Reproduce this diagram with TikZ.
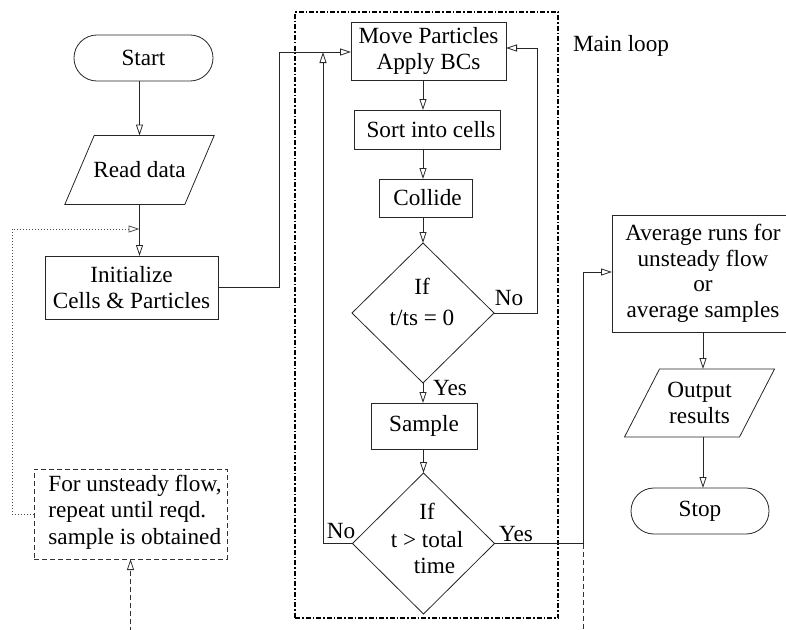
\documentclass[tikz,border=0pt]{standalone}
\usepackage{fontspec}
\setmainfont{Liberation Serif}
\usetikzlibrary{arrows.meta,shapes.geometric}
\newcommand{\fsz}{\fontsize{23.2}{25.5}\selectfont}
\begin{document}
\begin{tikzpicture}[x=1pt,y=-1pt,
  base/.style={draw=black!85, line width=0.8pt, inner sep=0pt, outer sep=0pt, align=center, font=\fsz},
  proc/.style={base, rectangle},
  term/.style={base, rectangle, rounded corners=22.9pt},
  dec/.style={base, diamond},
  iobox/.style={rectangle, inner sep=0pt, outer sep=0pt, align=center, font=\fsz},
  outline/.style={draw=black!85, line width=0.8pt},
  txt/.style={inner sep=0pt, align=center, font=\fsz},
  loopframe/.style={draw=black, line width=1.3pt, dash pattern=on 5pt off 2pt on 1.5pt off 2pt, rectangle, inner sep=0pt, outer sep=0pt},
  notebox/.style={draw=black!80, line width=0.8pt, dash pattern=on 5pt off 3pt, rectangle, inner sep=0pt, outer sep=0pt},
  tip/.style={-{Triangle[open,length=11pt,width=7pt]}},
  flow/.style={line width=0.8pt, draw=black!85, tip},
  dashline/.style={line width=0.8pt, draw=black!80, dash pattern=on 5pt off 3pt},
  dotline/.style={line width=0.8pt, draw=black!70, dash pattern=on 1pt off 2pt}
]
\useasboundingbox (0,0) rectangle (786,629);

% main loop frame
\node[loopframe, minimum width=263, minimum height=606] (loop) at (426.5,315) {};
\node[txt] (mainlbl) at (621,46) {Main loop};

% left column
\node[term, minimum width=139, minimum height=46] (start) at (143.5,58) {Start};
\node[iobox, minimum width=120, minimum height=69] (read) at (139.5,170) {Read data};
\draw[outline] ([xshift=14.7pt]read.north west) -- ([xshift=14.7pt]read.north east)
  -- ([xshift=-14.7pt]read.south east) -- ([xshift=-14.7pt]read.south west) -- cycle;
\node[proc, minimum width=173, minimum height=63] (init) at (131.5,287.5) {Initialize\\Cells \& Particles};
\node[notebox, minimum width=193, minimum height=90] (note) at (130.5,514) {};
\node[txt, align=left, font=\fontsize{23.2}{26.5}\selectfont] (notet) at (135,512) {For unsteady flow,\\repeat until reqd.\\sample is obtained};

% main loop
\node[proc, minimum width=155, minimum height=58] (move) at (428.5,51) {Move Particles\\Apply BCs};
\node[proc, minimum width=146, minimum height=39] (sort) at (427,129.5) {\hspace*{8pt}Sort into cells};
\node[proc, minimum width=93, minimum height=38] (collide) at (425.5,198) {\hspace*{4pt}Collide};
\node[dec, minimum width=142, minimum height=140] (d1) at (423,313) {};
\node[txt] (d1t) at (422,302) {If\\[5pt]t/ts = 0};
\node[proc, minimum width=106, minimum height=46] (sample) at (424,426) {Sample};
\node[dec, minimum width=142, minimum height=141] (d2) at (423.5,543.5) {};
\node[txt] (d2t) at (427,538) {If\\[3pt]t > total\\\hspace*{15pt}time};

% right column
\node[proc, minimum width=182, minimum height=117] (avg) at (703,273.5) {Average runs for\\unsteady flow\\or\\average samples};
\node[iobox, minimum width=115, minimum height=68] (out) at (699.5,403) {Output\\results};
\draw[outline] ([xshift=17.5pt]out.north west) -- ([xshift=17.5pt]out.north east)
  -- ([xshift=-17.5pt]out.south east) -- ([xshift=-17.5pt]out.south west) -- cycle;
\node[term, minimum width=138, minimum height=46] (stop) at (700,511) {Stop};

% labels
\node[txt] (no1) at (509,298) {No};
\node[txt] (yes1) at (450,388) {Yes};
\node[txt] (no2) at (341,531) {No};
\node[txt] (yes2) at (516,534) {Yes};

% helper coordinates
\coordinate (c1) at (279,52);
\coordinate (c2) at (537,48);
\coordinate (c3) at (323,52);
\coordinate (c4) at (583,543.5);
\coordinate (c5) at (583,272);
\coordinate (c6) at (583,640);
\coordinate (c7) at (12,514);
\coordinate (c8) at (12,229);
\coordinate (c9) at (139.5,229);
\coordinate (c10) at (130.5,640);

% connectors
\draw[flow] (start.south -| read.north) -- (read.north);
\draw[flow] (read.south) -- (read.south |- init.north);
\draw[flow] (init.east) -| (c1) -- (c1 -| move.west);
\draw[flow] (move.south -| d1.north) -- (sort.north -| d1.north);
\draw[flow] (sort.south -| d1.north) -- (collide.north -| d1.north);
\draw[flow] (collide.south -| d1.north) -- (d1.north);
\draw[flow] (d1.east) -| (c2) -- (c2 -| move.east);
\draw[flow] (d1.south) -- (sample.north -| d1.south);
\draw[flow] (sample.south -| d2.north) -- (d2.north);
\draw[flow] (d2.west) -| (c3);
\draw[flow] (d2.east) -| (c5) -- (c5 -| avg.west);
\draw[dashline] (c4) -- (c6);
\draw[flow] (avg.south) -- (avg.south |- out.north);
\draw[flow] (avg.south |- out.south) -- (avg.south |- stop.north);
\draw[dotline, tip] (note.west) -- (c7) -- (c8) -- (c9);
\draw[dashline, tip] (c10) -- (note.south);
\end{tikzpicture}
\end{document}
